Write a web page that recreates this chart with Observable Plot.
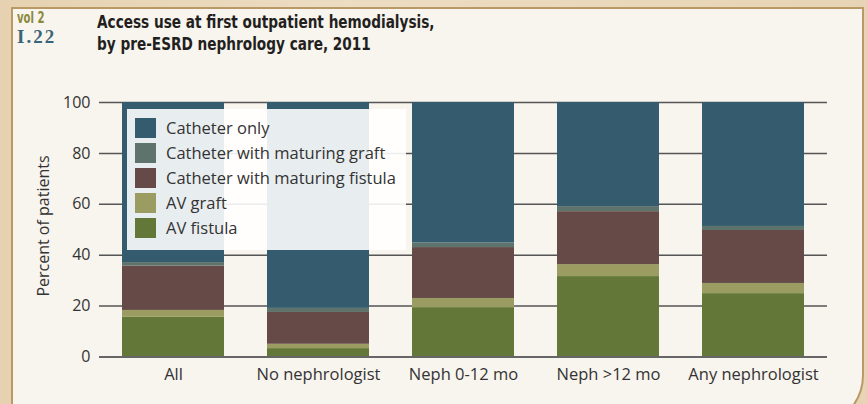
<!DOCTYPE html>
<html>
<head>
<meta charset="utf-8">
<script src="https://cdn.jsdelivr.net/npm/d3@7"></script>
<script src="https://cdn.jsdelivr.net/npm/@observablehq/plot@0.6"></script>
<style>
  html, body { margin: 0; padding: 0; }
  body { width: 867px; height: 404px; overflow: hidden; background: #e8d6b8; font-family: "Open Sans", sans-serif; }
  #wrap { position: relative; width: 867px; height: 404px; overflow: hidden;
    background: linear-gradient(90deg, #e6d2b0, #ecdcc2 40%, #e7d4b4); }
  #panel { position: absolute; left: 11px; top: 7px; width: 849px; height: 417px;
    background: #f8f4ee; border: 2px solid #b99a66; border-radius: 0 0 53px 0; }
  .cond { font-family: "DejaVu Sans Condensed", "DejaVu Sans", sans-serif; font-weight: bold;
    transform-origin: 0 0; white-space: nowrap; position: absolute; }
  #vol { left: 17px; top: 10px; font-size: 15px; color: #8a8a3c; line-height: 16px; transform: scaleX(0.75); }
  #fig { position: absolute; left: 17px; top: 28px; font-family: "Liberation Serif", "DejaVu Serif", serif;
    font-weight: bold; font-size: 19px; color: #3a6579; letter-spacing: 2px; line-height: 18px; }
  .tl { left: 97px; font-size: 18.5px; color: #231f20; line-height: 20px; transform: scaleX(0.82); }
  #t1 { top: 12px; }
  #t2 { top: 34px; }
  #chart { position: absolute; left: 0; top: 0; }
  #ylabel { position: absolute; left: 43px; top: 226px; transform: translate(-50%, -50%) rotate(-90deg);
    white-space: nowrap; font-size: 16px; color: #333; }
  #legend { position: absolute; left: 127px; top: 109px; width: 279px; height: 141px;
    background: rgba(255,255,255,0.89); box-sizing: border-box; padding: 6px 0 0 8px; }
  .item { display: flex; align-items: center; height: 25px; font-size: 16.5px; color: #333; white-space: nowrap; }
  .sw { width: 21px; height: 20px; margin-right: 10px; flex: none; }
</style>
</head>
<body>
<div id="wrap">
  <div id="panel"></div>
  <div id="vol" class="cond">vol 2</div>
  <div id="fig">I.22</div>
  <div id="t1" class="cond tl">Access use at first outpatient hemodialysis,</div>
  <div id="t2" class="cond tl">by pre-ESRD nephrology care, 2011</div>
  <div id="chart"></div>
  <div id="ylabel">Percent of patients</div>
  <div id="legend"></div>
</div>
<script>
const groups = ["All", "No nephrologist", "Neph 0-12 mo", "Neph >12 mo", "Any nephrologist"];
// stacked bottom to top
const types = ["AV fistula", "AV graft", "Catheter with maturing fistula", "Catheter with maturing graft", "Catheter only"];
const colors = ["#637838", "#9a9c61", "#654a47", "#5e736c", "#345c6e"];
const avFistula    = [15.6,  3.3, 19.4, 31.6, 24.9];
const avGraft      = [ 2.7,  1.7,  3.6,  4.7,  4.0];
const matFistula   = [17.4, 12.5, 20.0, 20.8, 20.8];
const matGraft     = [ 1.4,  1.6,  1.8,  2.0,  1.6];
const catheterOnly = [62.9, 80.9, 55.2, 40.9, 48.7];
const yTicks = [0, 20, 40, 60, 80, 100];
const legendOrder = ["Catheter only", "Catheter with maturing graft", "Catheter with maturing fistula", "AV graft", "AV fistula"];

const series = [avFistula, avGraft, matFistula, matGraft, catheterOnly];
const data = [];
types.forEach((t, i) => groups.forEach((g, j) => data.push({group: g, type: t, value: series[i][j]})));

const chart = Plot.plot({
  width: 867,
  height: 404,
  marginTop: 102,
  marginBottom: 47.5,
  marginLeft: 99,
  marginRight: 40,
  style: {background: "transparent", fontFamily: "'Open Sans', sans-serif", color: "#333"},
  x: {domain: groups, paddingInner: 0.3, paddingOuter: 0.15, label: null},
  y: {domain: [0, 100], label: null},
  color: {domain: types, range: colors},
  marks: [
    Plot.ruleY(yTicks.filter(d => d > 0), {stroke: "#555", strokeWidth: 1.5}),
    Plot.barY(data, {x: "group", y: "value", fill: "type", order: types}),
    Plot.ruleY([0], {stroke: "#666", strokeWidth: 2}),
    Plot.axisY(yTicks, {tickSize: 0, tickPadding: 9, fontSize: 16, label: null}),
    Plot.axisX({tickSize: 0, tickPadding: 11, fontSize: 16.5, label: null})
  ]
});
document.getElementById("chart").appendChild(chart);

const legend = document.getElementById("legend");
legendOrder.forEach(t => {
  const it = document.createElement("div");
  it.className = "item";
  const sw = document.createElement("div");
  sw.className = "sw";
  sw.style.background = colors[types.indexOf(t)];
  const lab = document.createElement("span");
  lab.textContent = t;
  it.appendChild(sw); it.appendChild(lab);
  legend.appendChild(it);
});
</script>
</body>
</html>
